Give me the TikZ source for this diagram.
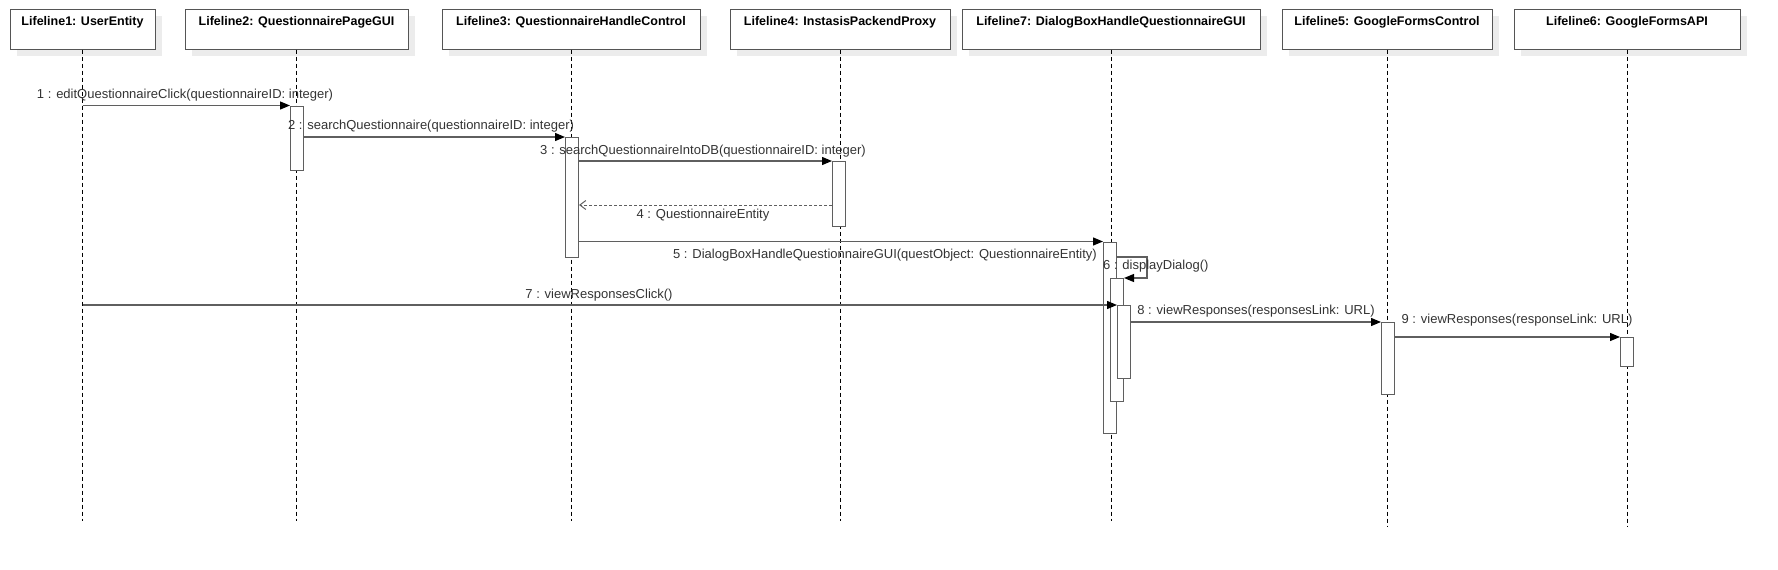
\documentclass[tikz,border=0pt]{standalone}
\usepackage{fontspec}
\setmainfont{Liberation Sans}
\usetikzlibrary{arrows.meta,shadows}
\definecolor{linegray}{HTML}{5F5F5F}
\definecolor{boxgray}{HTML}{555555}
\definecolor{txtgray}{HTML}{333333}
\definecolor{shgray}{HTML}{ECECEC}
\begin{document}
\begin{tikzpicture}[x=1pt,y=-1pt,
  hdr/.style={draw=boxgray, line width=1pt, fill=white, minimum height=40pt, inner sep=0pt,
    drop shadow={fill=shgray, opacity=1, shadow xshift=7pt, shadow yshift=-7pt}},
  hdrtext/.style={font=\bfseries\fontsize{12.5}{14}\selectfont, inner sep=0pt},
  lifeline/.style={draw=black, line width=0.8pt, dash pattern=on 4pt off 3pt},
  act/.style={draw=linegray, fill=white, line width=1pt, minimum width=13pt, inner sep=0pt, anchor=north},
  msg/.style={draw=linegray, line width=1.2pt, -{Triangle[length=10pt,width=8pt,color=black]}},
  ret/.style={draw=linegray, line width=1pt, dash pattern=on 3pt off 2pt, -{Straight Barb[length=6pt,width=9pt]}},
  lbl/.style={font=\fontsize{13}{15}\selectfont, text=txtgray, inner sep=0pt}]
\useasboundingbox (0,0) rectangle (1778,570);
% headers
\node[hdr, minimum width=145pt] (h1) at (82.5,29) {};
\node[hdr, minimum width=223pt] (h2) at (296.5,29) {};
\node[hdr, minimum width=258pt] (h3) at (571,29) {};
\node[hdr, minimum width=220pt] (h4) at (840,29) {};
\node[hdr, minimum width=298pt] (h7) at (1111,29) {};
\node[hdr, minimum width=210pt] (h5) at (1387,29) {};
\node[hdr, minimum width=226pt] (h6) at (1627,29) {};
\node[hdrtext] (t1) at ([yshift=-14pt]h1.north) {Lifeline1: UserEntity};
\node[hdrtext] (t2) at ([yshift=-14pt]h2.north) {Lifeline2: QuestionnairePageGUI};
\node[hdrtext] (t3) at ([yshift=-14pt]h3.north) {Lifeline3: QuestionnaireHandleControl};
\node[hdrtext] (t4) at ([yshift=-14pt]h4.north) {Lifeline4: InstasisPackendProxy};
\node[hdrtext] (t7) at ([yshift=-14pt]h7.north) {Lifeline7: DialogBoxHandleQuestionnaireGUI};
\node[hdrtext] (t5) at ([yshift=-14pt]h5.north) {Lifeline5: GoogleFormsControl};
\node[hdrtext] (t6) at ([yshift=-14pt]h6.north) {Lifeline6: GoogleFormsAPI};
% lifelines
\coordinate (bot) at (0,521);
\coordinate (bot2) at (0,527);
\draw[lifeline] (h1.south) -- (h1.south |- bot);
\draw[lifeline] (h2.south) -- (h2.south |- bot);
\draw[lifeline] (h3.south) -- (h3.south |- bot);
\draw[lifeline] (h4.south) -- (h4.south |- bot);
\draw[lifeline] (h7.south) -- (h7.south |- bot);
\draw[lifeline] (h5.south) -- (h5.south |- bot2);
\draw[lifeline] (h6.south) -- (h6.south |- bot2);
% activations
\node[act, minimum height=64.5pt] (a2) at (297,105.5) {};
\node[act, minimum height=120pt] (a3) at (572,137) {};
\node[act, minimum height=65pt] (a4) at (839,161) {};
\node[act, minimum height=191.5pt] (a7a) at (1110,241.5) {};
\node[act, minimum height=123pt] (a7b) at (1117,278) {};
\node[act, minimum height=73pt] (a7c) at (1124,305) {};
\node[act, minimum height=72pt] (a5) at (1388,322) {};
\node[act, minimum height=29pt] (a6) at (1627,337) {};
% messages
\coordinate (y4) at (0,205);
\coordinate (y6) at (0,257);
\draw[msg] (h1.south |- a2.north) -- (a2.north west);
\draw[msg] (a2.east |- a3.north) -- (a3.north west);
\draw[msg] (a3.east |- a4.north) -- (a4.north west);
\draw[ret] (a4.west |- y4) -- (a3.east |- y4);
\draw[msg] (a3.east |- a7a.north) -- (a7a.north west);
\draw[msg] (a7a.east |- y6) -- ++(30,0) |- (a7b.north east);
\draw[msg] (h1.south |- a7c.north) -- (a7c.north west);
\draw[msg] (a7c.east |- a5.north) -- (a5.north west);
\draw[msg] (a5.east |- a6.north) -- (a6.north west);
% labels
\node[lbl] (l1) at (185,95) {1 : editQuestionnaireClick(questionnaireID: integer)};
\node[lbl] (l2) at (431,126) {2 : searchQuestionnaire(questionnaireID: integer)};
\node[lbl] (l3) at (703,151) {3 : searchQuestionnaireIntoDB(questionnaireID: integer)};
\node[lbl] (l4) at (703,215) {4 : QuestionnaireEntity};
\node[lbl] (l5) at (885,255) {5 : DialogBoxHandleQuestionnaireGUI(questObject: QuestionnaireEntity)};
\node[lbl, anchor=west] (l6) at (1103,266.5) {6 : displayDialog()};
\node[lbl] (l7) at (599,295) {7 : viewResponsesClick()};
\node[lbl] (l8) at (1256,311) {8 : viewResponses(responsesLink: URL)};
\node[lbl] (l9) at (1517,320) {9 : viewResponses(responseLink: URL)};
\end{tikzpicture}
\end{document}
